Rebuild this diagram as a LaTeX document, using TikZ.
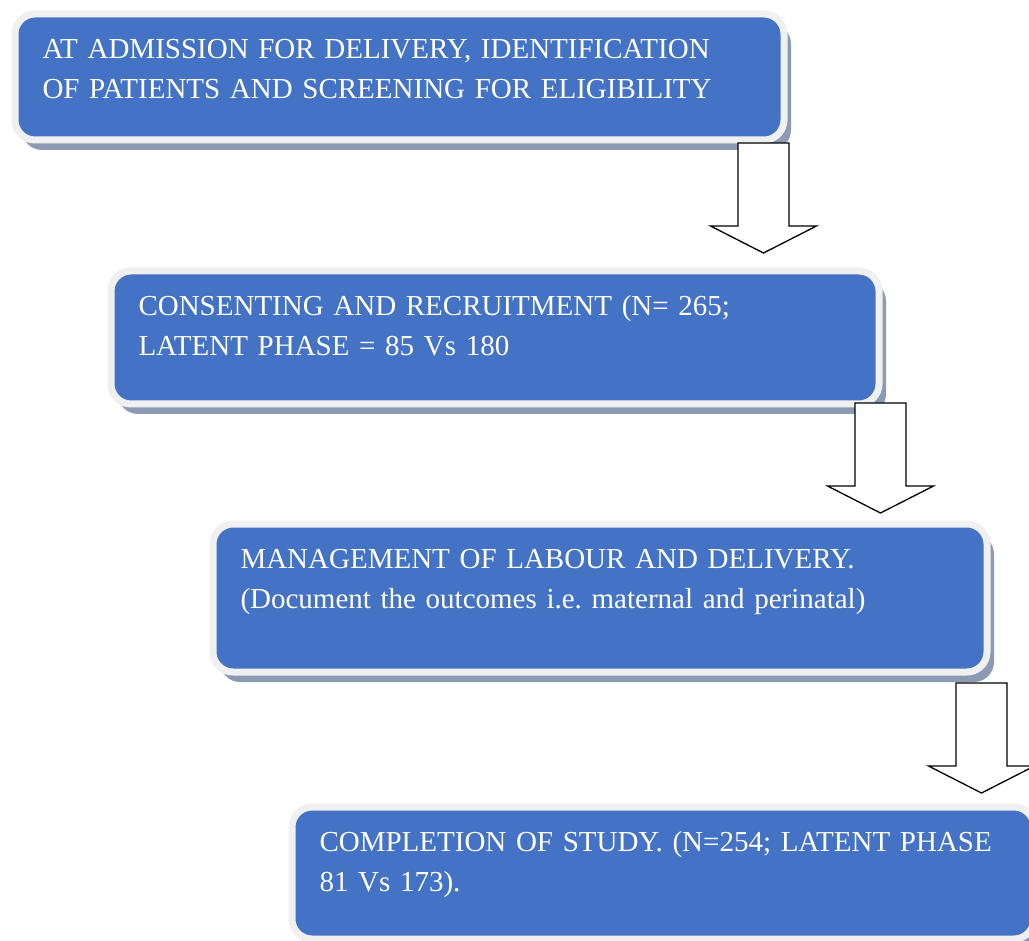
\documentclass[tikz,border=0pt]{standalone}
\usepackage{fontspec}
\setmainfont{Liberation Serif}
\usetikzlibrary{shadows}
\definecolor{boxblue}{HTML}{4472C4}
\definecolor{boxrim}{HTML}{F0F0F0}
\definecolor{boxshadow}{HTML}{8C9AB4}

\begin{document}
\frenchspacing
\begin{tikzpicture}[x=1pt,y=-1pt,
    stagebox/.style={draw=boxrim, line width=7pt, fill=boxblue, rounded corners=20pt,
      anchor=north west, inner xsep=27.5pt, inner ysep=0pt, align=left, text=white,
      text height=44.5pt, font=\fontsize{29}{40}\selectfont,
      drop shadow={shadow xshift=7pt, shadow yshift=-10pt, fill=boxshadow, opacity=1}},
    blockarrow/.style={draw=black, line width=1.3pt, fill=white}]

  \useasboundingbox (0,0) rectangle (1029,941);

  % the four stages of the study
  \node[stagebox, text width=714pt, text depth=81.5pt] (b1) at (11.5,10.5)
    {AT ADMISSION FOR DELIVERY, IDENTIFICATION\\OF PATIENTS AND SCREENING FOR ELIGIBILITY};
  \node[stagebox, text width=713pt, text depth=88.5pt] (b2) at (107.5,267.5)
    {CONSENTING AND RECRUITMENT (N= 265;\\LATENT PHASE = 85 Vs 180};
  \node[stagebox, text width=719pt, text depth=103.5pt] (b3) at (209.5,520.5)
    {MANAGEMENT OF LABOUR AND DELIVERY.\\(Document the outcomes i.e. maternal and perinatal)};
  \node[stagebox, text width=687pt, text depth=87.5pt] (b4) at (288.5,803.5)
    {COMPLETION OF STUDY. (N=254; LATENT PHASE\\81 Vs 173).};

  % block arrows between the stages
  \foreach \ax/\ay [count=\n] in {763.5/143, 880.5/403, 981.5/683} {
    \coordinate (a\n) at (\ax,\ay);
    \draw[blockarrow] (a\n) ++(-25.5,0) -- ++(51,0) -- ++(0,83) -- ++(27.5,0)
      -- ++(-53,27) -- ++(-53,-27) -- ++(27.5,0) -- cycle;
  }

\end{tikzpicture}
\end{document}
